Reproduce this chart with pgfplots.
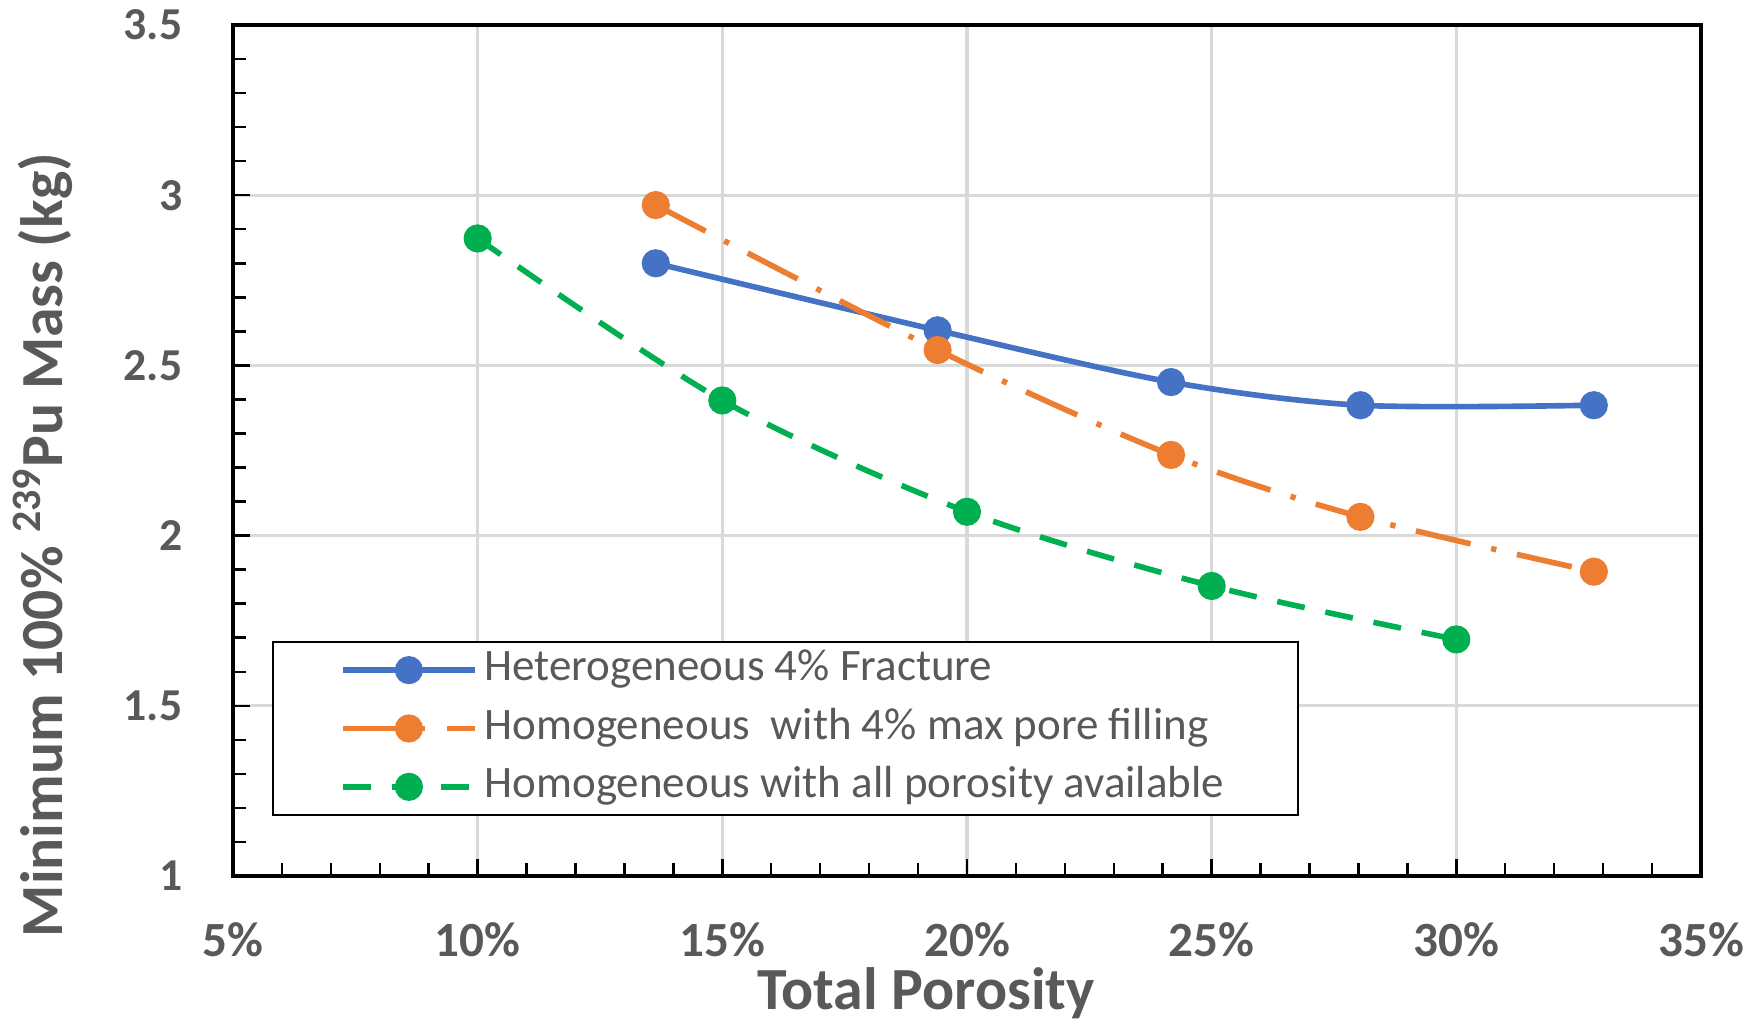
\documentclass[border=0pt]{standalone}
\usepackage{fontspec}
\setmainfont{Carlito}
\usepackage{pgfplots}
\pgfplotsset{compat=1.18}
\definecolor{cblue}{HTML}{4472C4}
\definecolor{corange}{HTML}{ED7D31}
\definecolor{cgreen}{HTML}{00B050}
\definecolor{txt}{HTML}{595959}
\definecolor{gridc}{HTML}{D9D9D9}
\begin{document}
\begin{tikzpicture}
\begin{axis}[
  at={(0,0)}, anchor=south west,
  scale only axis, width=14.68cm, height=8.51cm,
  xmin=5, xmax=35, ymin=1, ymax=3.5,
  xtick={5,10,15,20,25,30,35},
  xticklabels={5\%,10\%,15\%,20\%,25\%,30\%,35\%},
  ytick={1,1.5,2,2.5,3,3.5},
  yticklabels={1,1.5,2,2.5,3,3.5},
  minor x tick num=4, minor y tick num=4,
  tick pos=left, tick align=inside,
  major tick length=4.8pt, minor tick length=3.8pt,
  tick style={black, line width=0.7pt},
  grid=major, major grid style={gridc, line width=0.9pt},
  axis line style={black, line width=1.2pt},
  xticklabel style={font=\bfseries\fontsize{14}{16}\selectfont, text=txt, inner sep=0pt, anchor=north, yshift=-0.46cm},
  yticklabel style={font=\bfseries\fontsize{13}{15}\selectfont, text=txt, inner sep=0pt, anchor=east, xshift=-0.5cm},
  xlabel={Total Porosity},
  xlabel style={at={(axis description cs:0.472,-0.1565)}, anchor=base, font=\bfseries\fontsize{17}{20}\selectfont, text=txt},
  ylabel={Minimum 100\% \textsuperscript{239}Pu Mass (kg)},
  ylabel style={at={(axis description cs:-0.1294,0.389)}, anchor=center, font=\bfseries\fontsize{17}{20}\selectfont, text=txt},
  legend cell align=left,
  legend style={at={(axis description cs:0.0266,0.0705)}, anchor=south west,
    draw=black, line width=0.6pt, fill=white,
    font=\fontsize{12.8}{15}\selectfont, text=txt,
    inner xsep=0.67cm, inner ysep=0pt,
    nodes={inner sep=2pt, text height=9pt, text depth=3pt},
    row sep=0.6pt},
  legend image code/.code={\draw[mark repeat=2, mark phase=2, #1] plot coordinates {(0cm,0cm) (0.66cm,0cm) (1.32cm,0cm)};},
]
\addplot[cblue, line width=1.6pt, smooth, mark=*, mark size=3.2pt, mark options={solid}]
  coordinates {(13.64,2.80) (19.40,2.603) (24.17,2.451) (28.04,2.383) (32.81,2.383)};
\addlegendentry{Heterogeneous 4\% Fracture}
\addplot[corange, line width=1.6pt, smooth, dash pattern=on 16pt off 6pt on 1.5pt off 6pt, mark=*, mark size=3.2pt, mark options={solid}]
  coordinates {(13.64,2.971) (19.40,2.545) (24.17,2.237) (28.04,2.055) (32.81,1.894)};
\addlegendentry{Homogeneous \ with 4\% max pore filling}
\addplot[cgreen, line width=1.6pt, smooth, dash pattern=on 8pt off 6pt, mark=*, mark size=3.2pt, mark options={solid}]
  coordinates {(10,2.873) (15,2.397) (20,2.070) (25,1.852) (30,1.695)};
\addlegendentry{Homogeneous with all porosity available}
\end{axis}
\pgfresetboundingbox
\path[use as bounding box] (-2.33cm,-1.49cm) rectangle (15.30cm,8.76cm);
\end{tikzpicture}
\end{document}
